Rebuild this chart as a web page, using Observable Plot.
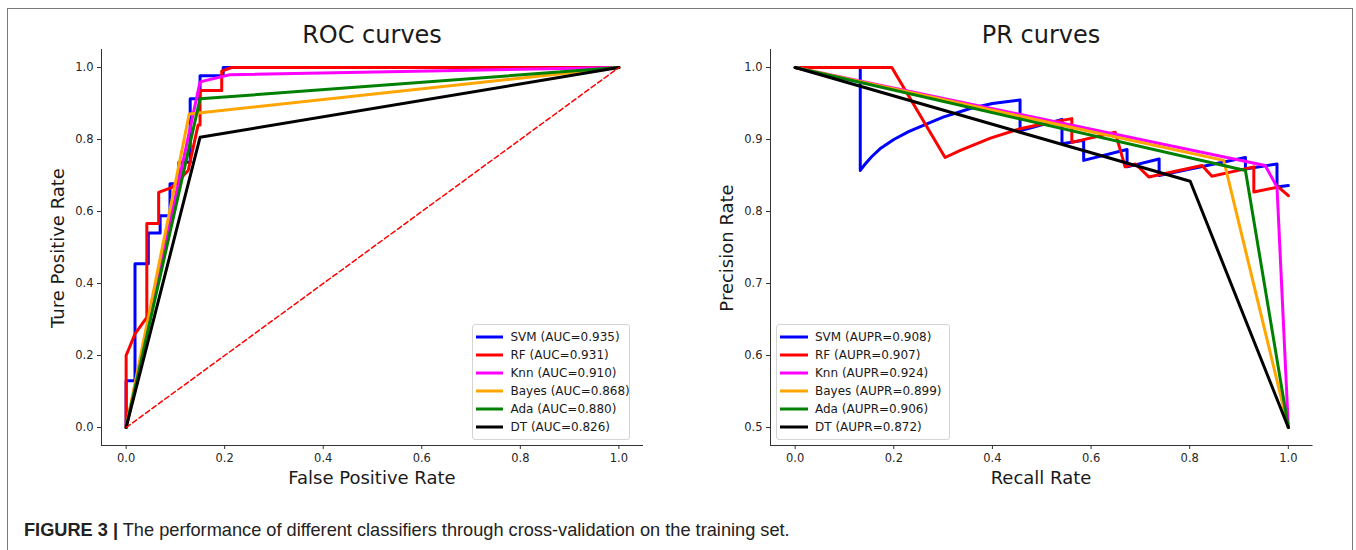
<!DOCTYPE html>
<html><head><meta charset="utf-8">
<script src="https://cdn.jsdelivr.net/npm/d3@7"></script>
<script src="https://cdn.jsdelivr.net/npm/@observablehq/plot@0.6"></script>
<style>
body{margin:0;background:#fff;}
#root{position:relative;width:1356px;height:550px;overflow:hidden;font-family:"DejaVu Sans",sans-serif;background:#fff;}
#frame{position:absolute;left:7px;top:8px;width:1346px;height:560px;border:1.5px solid #7a7a7a;box-sizing:border-box;}
.plot{position:absolute;top:0;}
.lbl{position:absolute;white-space:nowrap;color:#1a1a1a;transform:translate(-50%,-50%);line-height:1;}
.legend{position:absolute;border:1px solid #d4d4d4;border-radius:3px;background:rgba(255,255,255,0.85);box-sizing:border-box;}
.lrow{position:absolute;white-space:nowrap;font-size:12px;color:#1a1a1a;line-height:1;transform:translateY(-50%);}
.sw{position:absolute;height:3px;transform:translateY(-50%);}
#caption{position:absolute;left:24px;top:520px;font-family:"Liberation Sans Narrow","Liberation Sans",sans-serif;font-size:18.2px;color:#222;white-space:nowrap;}
</style></head>
<body><div id="root"><div id="frame"></div></div>
<script>
// ---- data ----
const seriesNames = ["SVM", "RF", "Knn", "Bayes", "Ada", "DT"];
const seriesColors = ["#0000ff", "#ff0000", "#ff00ff", "#ffa500", "#008000", "#000000"];
const aucValues = ["0.935", "0.931", "0.910", "0.868", "0.880", "0.826"];
const auprValues = ["0.908", "0.907", "0.924", "0.899", "0.906", "0.872"];

// ROC curves: [FPR, TPR]
const rocSVM = [[0,0],[0,0.13],[0.018,0.13],[0.018,0.455],[0.045,0.455],[0.045,0.54],[0.069,0.54],[0.069,0.588],[0.089,0.588],[0.089,0.677],[0.107,0.677],[0.107,0.737],[0.13,0.737],[0.13,0.913],[0.15,0.913],[0.15,0.977],[0.197,0.977],[0.197,1],[1,1]];
const rocRF = [[0,0],[0,0.2],[0.018,0.26],[0.042,0.306],[0.042,0.567],[0.066,0.567],[0.066,0.653],[0.093,0.667],[0.126,0.714],[0.146,0.84],[0.15,0.84],[0.15,0.936],[0.194,0.936],[0.194,0.99],[0.214,1],[1,1]];
const rocKnn = [[0,0],[0.15,0.96],[0.21,0.98],[1,1]];
const rocBayes = [[0,0],[0.128,0.871],[1,1]];
const rocAda = [[0,0],[0.15,0.913],[1,1]];
const rocDT = [[0,0],[0.15,0.806],[1,1]];
const rocChance = [[0,0],[1,1]];

// PR curves: [Recall, Precision]
const prSVM = [[0,1],[0.132,1],[0.132,0.857],[0.142,0.866],[0.155,0.876],[0.172,0.887],[0.2,0.9],[0.23,0.911],[0.254,0.918],[0.3,0.931],[0.355,0.943],[0.4,0.95],[0.456,0.955],[0.456,0.912],[0.541,0.928],[0.541,0.894],[0.585,0.899],[0.585,0.871],[0.673,0.886],[0.673,0.862],[0.738,0.873],[0.738,0.85],[0.913,0.875],[0.913,0.859],[0.977,0.866],[0.977,0.834],[1,0.836]];
const prRF = [[0,1],[0.196,1],[0.304,0.875],[0.335,0.885],[0.396,0.902],[0.456,0.915],[0.511,0.923],[0.561,0.929],[0.561,0.896],[0.649,0.91],[0.669,0.862],[0.69,0.866],[0.717,0.848],[0.825,0.864],[0.845,0.849],[0.93,0.862],[0.93,0.827],[0.98,0.834],[1,0.822]];
const prKnn = [[0,1],[0.953,0.864],[0.977,0.834],[1,0.5]];
const prBayes = [[0,1],[0.869,0.871],[1,0.5]];
const prAda = [[0,1],[0.913,0.857],[1,0.5]];
const prDT = [[0,1],[0.801,0.842],[1,0.5]];

const unitTicks = [0, 0.2, 0.4, 0.6, 0.8, 1.0];
const prYTicks = [0.5, 0.6, 0.7, 0.8, 0.9, 1.0];

const rocSeries = [rocSVM, rocRF, rocKnn, rocBayes, rocAda, rocDT];
const prSeries = [prSVM, prRF, prKnn, prBayes, prAda, prDT];

// ---- drawing ----
const root = document.getElementById("root");
const fmt = d3.format(".1f");

function makePlot(series, yDomain, yTicks, marginLeft, marginRight, extra) {
  const marks = [
    Plot.ruleX([-0.05], {stroke: "#333", strokeWidth: 1}),
    Plot.ruleY([yDomain[0]], {stroke: "#333", strokeWidth: 1}),
    Plot.axisX({ticks: unitTicks, tickFormat: fmt, tickSize: 4, tickPadding: 4, label: null, stroke: "#333"}),
    Plot.axisY({ticks: yTicks, tickFormat: fmt, tickSize: 4, tickPadding: 4, label: null, stroke: "#333"})
  ];
  series.forEach((s, i) => {
    marks.push(Plot.line(s, {x: d => d[0], y: d => d[1], stroke: seriesColors[i], strokeWidth: 3, strokeLinejoin: "round"}));
  });
  if (extra) marks.push(extra);
  return Plot.plot({
    width: 678, height: 550,
    marginLeft, marginRight, marginTop: 49, marginBottom: 105,
    x: {domain: [-0.05, 1.05]},
    y: {domain: yDomain},
    style: {fontFamily: "DejaVu Sans", fontSize: "11.5px", color: "#262626", background: "transparent", overflow: "visible"},
    marks
  });
}

const roc = makePlot(rocSeries, [-0.05, 1.05], unitTicks, 101, 35,
  Plot.line(rocChance, {x: d => d[0], y: d => d[1], stroke: "#ff0000", strokeWidth: 1.5, strokeDasharray: "5,3"}));
roc.classList.add("plot"); roc.style.left = "0px";
root.appendChild(roc);

const pr = makePlot(prSeries, [0.475, 1.025], prYTicks, 92, 43.5, null);
pr.classList.add("plot"); pr.style.left = "678px";
root.appendChild(pr);

function label(text, x, y, size, rotate) {
  const d = document.createElement("div");
  d.className = "lbl";
  d.textContent = text;
  d.style.left = x + "px"; d.style.top = y + "px"; d.style.fontSize = size + "px";
  if (rotate) d.style.transform = "translate(-50%,-50%) rotate(-90deg)";
  root.appendChild(d);
}
label("ROC curves", 372, 35, 24);
label("PR curves", 1041, 35, 24);
label("False Positive Rate", 372, 478, 18);
label("Recall Rate", 1041, 478, 18);
label("Ture Positive Rate", 58, 248, 18, true);
label("Precision Rate", 727, 248, 18, true);

function legend(left, right, swLeft, swWidth, textLeft, metric, values) {
  const box = document.createElement("div");
  box.className = "legend";
  box.style.left = left + "px"; box.style.top = "324px";
  box.style.width = (right - left) + "px"; box.style.height = "116px";
  root.appendChild(box);
  const rowY = [336.7, 354.7, 372.7, 390.8, 408.9, 427];
  seriesNames.forEach((n, i) => {
    const sw = document.createElement("div");
    sw.className = "sw";
    sw.style.left = swLeft + "px"; sw.style.width = swWidth + "px";
    sw.style.top = rowY[i] + "px"; sw.style.background = seriesColors[i];
    root.appendChild(sw);
    const t = document.createElement("div");
    t.className = "lrow";
    t.style.left = textLeft + "px"; t.style.top = rowY[i] + "px";
    t.textContent = `${n} (${metric}=${values[i]})`;
    root.appendChild(t);
  });
}
legend(472, 630, 476, 27, 510.5, "AUC", aucValues);
legend(776, 950, 780, 28, 815, "AUPR", auprValues);

const cap = document.createElement("div");
cap.id = "caption";
cap.innerHTML = "<b>FIGURE 3 |</b> The performance of different classifiers through cross-validation on the training set.";
root.appendChild(cap);
</script></body></html>
